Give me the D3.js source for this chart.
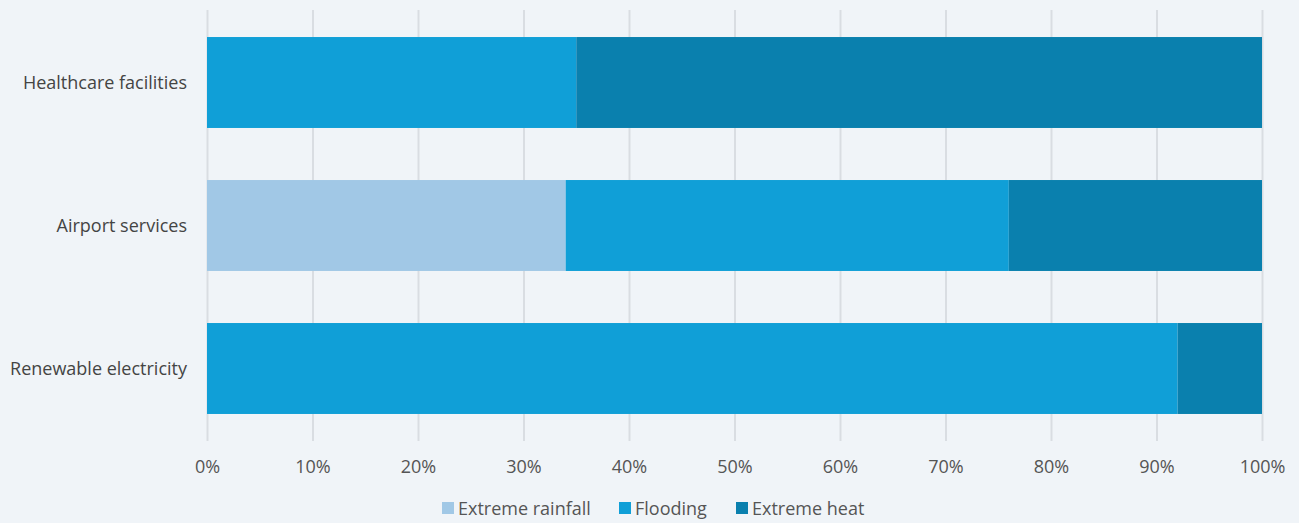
<!DOCTYPE html>
<html><head><meta charset="utf-8">
<script src="https://cdn.jsdelivr.net/npm/d3@7"></script>
<style>
html,body{margin:0;padding:0;background:#f0f4f8;}
text{font-family:"Open Sans",sans-serif;}
</style></head>
<body>
<svg id="chart" width="1299" height="523"></svg>
<script>
const categories = ["Healthcare facilities", "Airport services", "Renewable electricity"];
const seriesNames = ["Extreme rainfall", "Flooding", "Extreme heat"];
const extremeRainfall = [0, 34, 0];
const flooding = [35, 42, 92];
const extremeHeat = [65, 24, 8];
const tickValues = [0,10,20,30,40,50,60,70,80,90,100];
const colors = ["#a1c8e6", "#109fd7", "#0a80ae"];

const rows = categories.map((c,i)=>({cat:c, "Extreme rainfall":extremeRainfall[i], "Flooding":flooding[i], "Extreme heat":extremeHeat[i]}));
const stack = d3.stack().keys(seriesNames)(rows);

const svg = d3.select("#chart");
const x = d3.scaleLinear().domain([0,100]).range([207,1262]);
const y = d3.scaleBand().domain(categories).range([10,441]).paddingInner(0.364).paddingOuter(0.189);
const color = d3.scaleOrdinal().domain(seriesNames).range(colors);

// gridlines
svg.append("g").selectAll("line").data(tickValues).join("line")
  .attr("x1",d=>x(d)+0.5).attr("x2",d=>x(d)+0.5)
  .attr("y1",10).attr("y2",441)
  .attr("stroke","#d9dde2").attr("stroke-width",2);

// bars
svg.append("g").selectAll("g").data(stack).join("g")
  .attr("fill",d=>color(d.key))
  .selectAll("rect").data(d=>d).join("rect")
  .attr("x",d=>x(d[0])).attr("width",d=>x(d[1])-x(d[0]))
  .attr("y",d=>y(d.data.cat)).attr("height",y.bandwidth());

// x axis
const xAxis = svg.append("g").attr("transform","translate(0,441)")
  .call(d3.axisBottom(x).tickValues(tickValues).tickFormat(d=>d+"%").tickSize(0).tickPadding(19));
xAxis.select(".domain").remove();
xAxis.selectAll("text").attr("font-size",18).attr("fill","#555").style("font-family","'Open Sans',sans-serif");

// y axis
const yAxis = svg.append("g").attr("transform","translate(187,1)")
  .call(d3.axisLeft(y).tickSize(0).tickPadding(0));
yAxis.select(".domain").remove();
yAxis.selectAll("text").attr("font-size",18).attr("fill","#444").style("font-family","'Open Sans',sans-serif");

// legend
const legendX = [442, 619, 736];
const lg = svg.append("g").selectAll("g").data(seriesNames).join("g")
  .attr("transform",(d,i)=>`translate(${legendX[i]},502)`);
lg.append("rect").attr("width",12).attr("height",12).attr("fill",d=>color(d));
lg.append("text").attr("x",16).attr("y",7).attr("dy","0.35em")
  .attr("font-size",18).attr("fill","#555").text(d=>d);
</script>
</body></html>
